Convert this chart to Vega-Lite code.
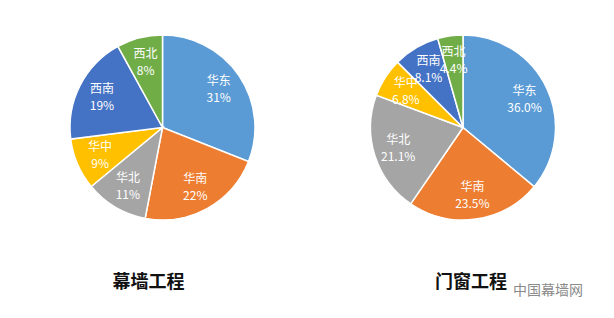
{
  "$schema": "https://vega.github.io/schema/vega-lite/v6.json",
  "padding": 0,
  "spacing": 0,
  "background": "white",
  "config": {"view": {"stroke": null}, "font": "Noto Sans CJK SC", "title": {"font": "Noto Sans CJK SC"}},
  "datasets": {
    "walls": [
      {"region": "华东", "share": 0.31, "idx": 1},
      {"region": "华南", "share": 0.22, "idx": 2},
      {"region": "华北", "share": 0.11, "idx": 3},
      {"region": "华中", "share": 0.09, "idx": 4},
      {"region": "西南", "share": 0.19, "idx": 5},
      {"region": "西北", "share": 0.08, "idx": 6}
    ],
    "windows": [
      {"region": "华东", "share": 0.360, "idx": 1},
      {"region": "华南", "share": 0.235, "idx": 2},
      {"region": "华北", "share": 0.211, "idx": 3},
      {"region": "华中", "share": 0.068, "idx": 4},
      {"region": "西南", "share": 0.081, "idx": 5},
      {"region": "西北", "share": 0.044, "idx": 6}
    ]
  },
  "title": {"text": "中国幕墙网", "orient": "bottom", "anchor": "end", "color": "#8a8a8a", "fontSize": 14, "fontWeight": "normal", "dx": -18, "dy": -12},
  "hconcat": [
    {
      "width": 325,
      "height": 255,
      "data": {"name": "walls"},
      "title": {"text": "幕墙工程", "orient": "bottom", "offset": 19, "dx": -14, "fontSize": 18, "fontWeight": "bold", "color": "#111111"},
      "encoding": {
        "theta": {"field": "share", "type": "quantitative", "stack": true},
        "order": {"field": "idx", "type": "quantitative"},
        "color": {"field": "region", "type": "nominal", "legend": null,
          "scale": {"domain": ["华东", "华南", "华北", "华中", "西南", "西北"], "range": ["#5B9BD5", "#ED7D31", "#A5A5A5", "#FFC000", "#4472C4", "#70AD47"]}}
      },
      "layer": [
        {"mark": {"type": "arc", "outerRadius": 92.5, "stroke": "white", "strokeWidth": 1.5}},
        {"mark": {"type": "text", "radius": 68, "dy": -8, "fontSize": 12, "fill": "white"}, "encoding": {"text": {"field": "region"}, "color": {"value": "white"}}},
        {"mark": {"type": "text", "radius": 68, "dy": 9, "fontSize": 12, "fill": "white"}, "encoding": {"text": {"field": "share", "format": ".0%"}, "color": {"value": "white"}}}
      ]
    },
    {
      "width": 276,
      "height": 255,
      "data": {"name": "windows"},
      "title": {"text": "门窗工程", "orient": "bottom", "offset": 19, "dx": 8, "fontSize": 18, "fontWeight": "bold", "color": "#111111"},
      "encoding": {
        "theta": {"field": "share", "type": "quantitative", "stack": true},
        "order": {"field": "idx", "type": "quantitative"},
        "color": {"field": "region", "type": "nominal", "legend": null,
          "scale": {"domain": ["华东", "华南", "华北", "华中", "西南", "西北"], "range": ["#5B9BD5", "#ED7D31", "#A5A5A5", "#FFC000", "#4472C4", "#70AD47"]}}
      },
      "layer": [
        {"mark": {"type": "arc", "outerRadius": 92.5, "stroke": "white", "strokeWidth": 1.5}},
        {"mark": {"type": "text", "radius": 68, "dy": -8, "fontSize": 12, "fill": "white"}, "encoding": {"text": {"field": "region"}, "color": {"value": "white"}}},
        {"mark": {"type": "text", "radius": 68, "dy": 9, "fontSize": 12, "fill": "white"}, "encoding": {"text": {"field": "share", "format": ".1%"}, "color": {"value": "white"}}}
      ]
    }
  ]
}
